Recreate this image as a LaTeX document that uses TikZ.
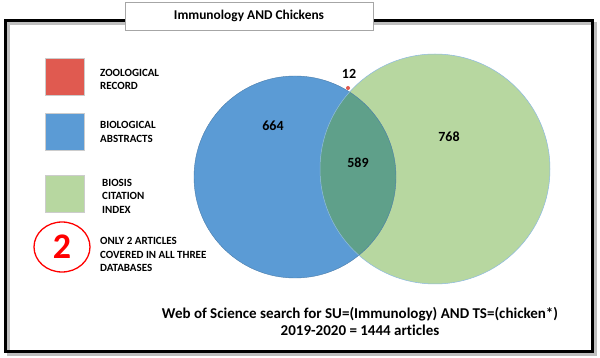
\documentclass[tikz,border=0pt]{standalone}
\usetikzlibrary{shapes.geometric}
\usepackage{fontspec}
\setmainfont{Carlito}[Ligatures=CommonOff]
\definecolor{zred}{HTML}{E05A50}
\definecolor{bblue}{HTML}{5B9BD5}
\definecolor{bgreen}{HTML}{B7D7A0}
\definecolor{olap}{HTML}{5FA08A}
\begin{document}
\begin{tikzpicture}[x=1pt,y=-1pt,
  legsq/.style={minimum width=39pt,minimum height=37pt,inner sep=0pt,draw=gray!40,line width=0.5pt},
  legtxt/.style={anchor=west,align=left,font=\bfseries\fontsize{11}{13.5}\selectfont,inner sep=0pt},
  num/.style={font=\bfseries\fontsize{14}{16}\selectfont,inner sep=0pt}]
\useasboundingbox (0,0) rectangle (600,358);
\fill[white] (0,0) rectangle (600,358);
% frame with shadow
\draw[gray!50,line width=3pt] (8,24) rectangle (595,354);
\draw[black,line width=3pt] (5,21) rectangle (592,351);
% title
\node[draw=gray!70,line width=0.6pt,fill=white,minimum width=248pt,minimum height=28pt,inner sep=0pt,
  font=\bfseries\fontsize{13.4}{15}\selectfont] (title) at (249,16) {Immunology AND Chickens};
% circles
\coordinate (bc) at (295,177);
\coordinate (gc) at (435,169);
\fill[bblue] (bc) circle (101);
\fill[bgreen] (gc) circle (115);
\begin{scope}
  \clip (bc) circle (101);
  \fill[olap] (gc) circle (115);
\end{scope}
\draw[bblue!80!black,line width=0.4pt] (bc) circle (101);
\draw[bblue!70,line width=0.5pt] (gc) circle (115);
\fill[zred] (348,88) circle (2);
% numbers
\node[num] (n12) at (349,74) {12};
\node[num] (n664) at (273,126) {664};
\node[num] (n589) at (358,163) {589};
\node[num] (n768) at (449,137) {768};
% legend
\node[legsq,fill=zred] (lz) at (64.5,76.5) {};
\node[legsq,fill=bblue] (lb) at (64.5,131.5) {};
\node[legsq,fill=bgreen] (lg) at (64.5,193.5) {};
\node[legtxt] (tz) at (100,79.5) {ZOOLOGICAL\\RECORD};
\node[legtxt] (tb) at (100,132) {BIOLOGICAL\\ABSTRACTS};
\node[legtxt] (tg) at (102,196) {BIOSIS\\CITATION\\INDEX};
\node[draw=red,line width=1.3pt,ellipse,minimum width=56pt,minimum height=50pt,inner sep=0pt,
  text=red,font=\bfseries\fontsize{36}{36}\selectfont] (two) at (62,247) {2};
\node[legtxt] (tt) at (100,254.5) {ONLY 2 ARTICLES\\COVERED IN ALL THREE\\DATABASES};
% caption
\node[align=center,font=\bfseries\fontsize{15}{17}\selectfont,inner sep=0pt] (cap) at (360,321.5)
  {Web of Science search for SU=(Immunology) AND TS=(chicken*)\\2019-2020 = 1444 articles};
\end{tikzpicture}
\end{document}
